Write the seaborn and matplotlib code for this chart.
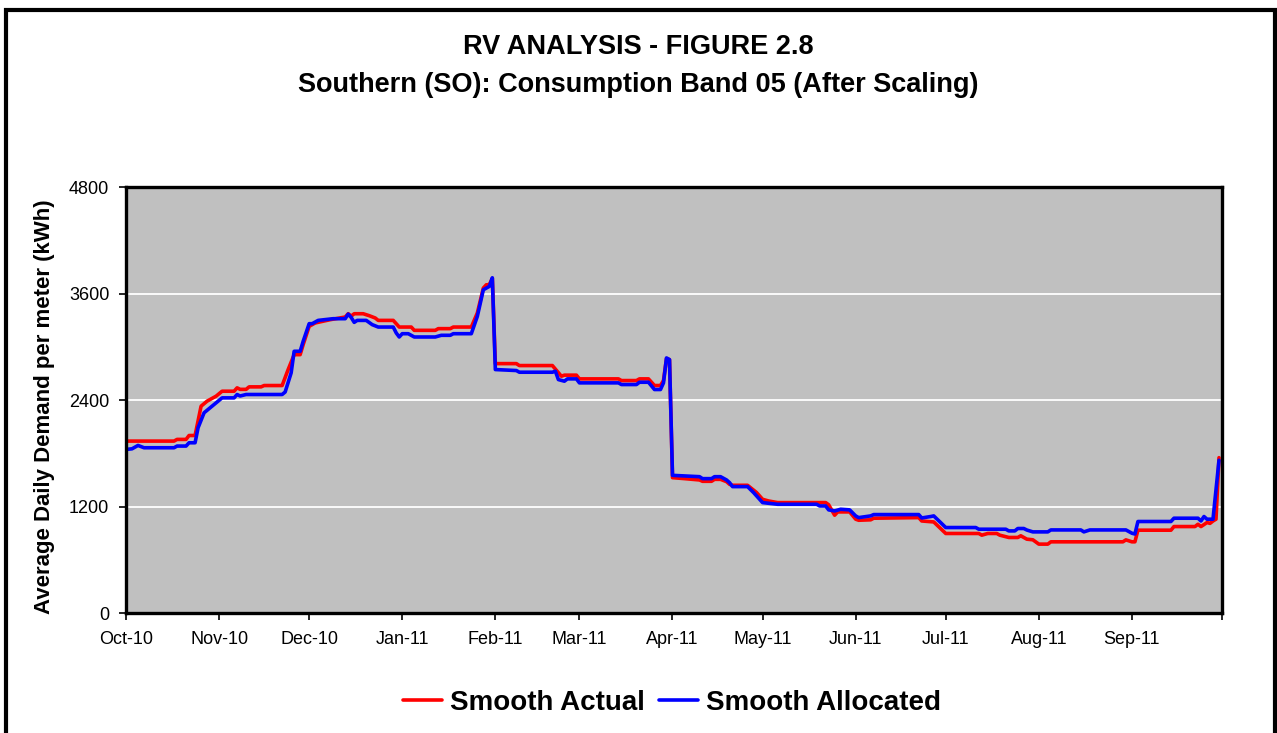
import pandas as pd
import matplotlib
matplotlib.use("Agg")
import matplotlib.pyplot as plt
import matplotlib.dates as mdates
from matplotlib.patches import Rectangle
import seaborn as sns

# --- data (change points of the smoothed series) ---
actual_dates = [
    "2010-10-01", "2010-10-17", "2010-10-18", "2010-10-21", "2010-10-22", "2010-10-24",
    "2010-10-26", "2010-10-28", "2010-10-31", "2010-11-02", "2010-11-06", "2010-11-07",
    "2010-11-08", "2010-11-10", "2010-11-11", "2010-11-15", "2010-11-16", "2010-11-22",
    "2010-11-24", "2010-11-26", "2010-11-28", "2010-11-29", "2010-12-01", "2010-12-03",
    "2010-12-08", "2010-12-13", "2010-12-14", "2010-12-15", "2010-12-16", "2010-12-19",
    "2010-12-21", "2010-12-23", "2010-12-24", "2010-12-29", "2010-12-31", "2011-01-04",
    "2011-01-05", "2011-01-12", "2011-01-13", "2011-01-17", "2011-01-18", "2011-01-24",
    "2011-01-26", "2011-01-28", "2011-01-29", "2011-01-30", "2011-01-31", "2011-02-01",
    "2011-02-08", "2011-02-09", "2011-02-20", "2011-02-23", "2011-02-24", "2011-02-28",
    "2011-03-01", "2011-03-14", "2011-03-15", "2011-03-20", "2011-03-21", "2011-03-24",
    "2011-03-26", "2011-03-28", "2011-03-29", "2011-03-30", "2011-03-31", "2011-04-01",
    "2011-04-05", "2011-04-10", "2011-04-11", "2011-04-14", "2011-04-15", "2011-04-17",
    "2011-04-19", "2011-04-20", "2011-04-21", "2011-04-26", "2011-04-29", "2011-05-01",
    "2011-05-03", "2011-05-06", "2011-05-22", "2011-05-23", "2011-05-25", "2011-05-26",
    "2011-05-30", "2011-06-01", "2011-06-02", "2011-06-06", "2011-06-07", "2011-06-22",
    "2011-06-23", "2011-06-27", "2011-07-01", "2011-07-12", "2011-07-13", "2011-07-15",
    "2011-07-18", "2011-07-19", "2011-07-22", "2011-07-25", "2011-07-26", "2011-07-28",
    "2011-07-30", "2011-08-01", "2011-08-04", "2011-08-05", "2011-08-29", "2011-08-30",
    "2011-09-01", "2011-09-02", "2011-09-03", "2011-09-14", "2011-09-15", "2011-09-22",
    "2011-09-23", "2011-09-24", "2011-09-26", "2011-09-27", "2011-09-28", "2011-09-29",
    "2011-09-30",
]
actual_values = [
    1937, 1937, 1956, 1956, 2000, 2000,
    2330, 2387, 2443, 2499, 2499, 2537,
    2520, 2520, 2548, 2548, 2563, 2563,
    2743, 2911, 2911, 3024, 3230, 3268,
    3305, 3335, 3372, 3345, 3372, 3372,
    3350, 3324, 3297, 3297, 3222, 3222,
    3185, 3185, 3204, 3204, 3222, 3222,
    3380, 3661, 3698, 3700, 3770, 2810,
    2810, 2788, 2788, 2668, 2680, 2680,
    2638, 2638, 2619, 2619, 2638, 2638,
    2563, 2563, 2620, 2866, 2855, 1525,
    1514, 1499, 1484, 1484, 1506, 1506,
    1480, 1450, 1439, 1439, 1357, 1281,
    1262, 1244, 1244, 1220, 1102, 1139,
    1139, 1057, 1045, 1050, 1068, 1075,
    1037, 1026, 896, 896, 877, 896,
    896, 877, 851, 851, 870, 832,
    825, 776, 776, 802, 802, 824,
    802, 802, 933, 933, 974, 974,
    1000, 974, 1019, 1010, 1037, 1057,
    1750,
]

allocated_dates = [
    "2010-10-01", "2010-10-03", "2010-10-05", "2010-10-07", "2010-10-17", "2010-10-18",
    "2010-10-21", "2010-10-22", "2010-10-24", "2010-10-25", "2010-10-27", "2010-10-29",
    "2010-10-31", "2010-11-02", "2010-11-06", "2010-11-07", "2010-11-08", "2010-11-10",
    "2010-11-22", "2010-11-23", "2010-11-25", "2010-11-26", "2010-11-28", "2010-11-29",
    "2010-12-01", "2010-12-02", "2010-12-04", "2010-12-09", "2010-12-13", "2010-12-14",
    "2010-12-15", "2010-12-16", "2010-12-17", "2010-12-20", "2010-12-22", "2010-12-24",
    "2010-12-29", "2010-12-30", "2010-12-31", "2011-01-01", "2011-01-03", "2011-01-05",
    "2011-01-12", "2011-01-14", "2011-01-17", "2011-01-18", "2011-01-24", "2011-01-26",
    "2011-01-28", "2011-01-29", "2011-01-30", "2011-01-31", "2011-02-01", "2011-02-08",
    "2011-02-09", "2011-02-20", "2011-02-21", "2011-02-22", "2011-02-24", "2011-02-25",
    "2011-02-28", "2011-03-01", "2011-03-14", "2011-03-15", "2011-03-20", "2011-03-21",
    "2011-03-24", "2011-03-26", "2011-03-28", "2011-03-29", "2011-03-30", "2011-03-31",
    "2011-04-01", "2011-04-10", "2011-04-11", "2011-04-14", "2011-04-15", "2011-04-17",
    "2011-04-19", "2011-04-20", "2011-04-21", "2011-04-26", "2011-04-28", "2011-04-29",
    "2011-05-01", "2011-05-06", "2011-05-19", "2011-05-20", "2011-05-22", "2011-05-23",
    "2011-05-25", "2011-05-27", "2011-05-30", "2011-06-01", "2011-06-02", "2011-06-06",
    "2011-06-07", "2011-06-22", "2011-06-23", "2011-06-26", "2011-06-27", "2011-07-01",
    "2011-07-11", "2011-07-12", "2011-07-21", "2011-07-22", "2011-07-24", "2011-07-25",
    "2011-07-27", "2011-07-28", "2011-07-30", "2011-08-04", "2011-08-05", "2011-08-15",
    "2011-08-16", "2011-08-18", "2011-08-30", "2011-09-01", "2011-09-02", "2011-09-03",
    "2011-09-14", "2011-09-15", "2011-09-23", "2011-09-24", "2011-09-25", "2011-09-26",
    "2011-09-28", "2011-09-30",
]
allocated_values = [
    1843, 1850, 1888, 1862, 1862, 1881,
    1881, 1918, 1918, 2087, 2256, 2312,
    2368, 2424, 2424, 2462, 2445, 2462,
    2462, 2490, 2706, 2949, 2949, 3061,
    3260, 3260, 3297, 3316, 3316, 3368,
    3330, 3275, 3297, 3297, 3249, 3222,
    3222, 3155, 3110, 3147, 3147, 3110,
    3110, 3129, 3129, 3147, 3147, 3342,
    3642, 3661, 3680, 3777, 2743, 2732,
    2713, 2713, 2724, 2630, 2612, 2638,
    2638, 2593, 2593, 2574, 2574, 2600,
    2600, 2518, 2518, 2593, 2874, 2855,
    1551, 1536, 1514, 1514, 1536, 1536,
    1499, 1469, 1424, 1424, 1357, 1319,
    1244, 1225, 1225, 1206, 1206, 1162,
    1150, 1169, 1162, 1094, 1075, 1094,
    1109, 1109, 1071, 1087, 1094, 963,
    963, 944, 944, 925, 925, 952,
    952, 935, 914, 914, 936, 936,
    914, 936, 936, 899, 890, 1031,
    1031, 1068, 1068, 1037, 1087, 1057,
    1057, 1720,
]

month_ticks = pd.date_range("2010-10-01", "2011-10-01", freq="MS")
month_labels = ["Oct-10", "Nov-10", "Dec-10", "Jan-11", "Feb-11", "Mar-11", "Apr-11",
                "May-11", "Jun-11", "Jul-11", "Aug-11", "Sep-11", ""]
y_ticks = [0, 1200, 2400, 3600, 4800]

df = pd.concat([
    pd.DataFrame({"date": pd.to_datetime(actual_dates), "value": actual_values,
                  "series": "Smooth Actual"}),
    pd.DataFrame({"date": pd.to_datetime(allocated_dates), "value": allocated_values,
                  "series": "Smooth Allocated"}),
], ignore_index=True)

sns.set_style("ticks")
plt.rcParams["font.family"] = ["Liberation Sans", "DejaVu Sans"]
plt.rcParams["text.color"] = "black"
plt.rcParams["axes.labelcolor"] = "black"
plt.rcParams["xtick.color"] = "black"
plt.rcParams["ytick.color"] = "black"

fig = plt.figure(figsize=(12.77, 7.33), dpi=100)
ax = fig.add_axes([126 / 1277, 1 - 613 / 733, (1222 - 126) / 1277, (613 - 187) / 733])
ax.set_facecolor("#C0C0C0")

sns.lineplot(data=df, x="date", y="value", hue="series", estimator=None, sort=False,
             palette={"Smooth Actual": "#FF0000", "Smooth Allocated": "#0000FF"},
             linewidth=2.6, ax=ax)

ax.set_xlim(month_ticks[0], month_ticks[-1])
ax.set_ylim(0, 4800)
ax.set_yticks(y_ticks)
ax.set_xticks(month_ticks)
ax.set_xticklabels(month_labels)
ax.yaxis.grid(True, color="white", linewidth=1.3)
ax.set_axisbelow(True)
for s in ax.spines.values():
    s.set_linewidth(2.4)
    s.set_color("black")
ax.tick_params(axis="both", direction="out", length=5, width=1.2, labelsize=13,
               color="black", labelcolor="black")
ax.tick_params(axis="y", pad=7)
ax.tick_params(axis="x", pad=8)
ax.set_xlabel("")
ax.set_ylabel("")

handles, labels = ax.get_legend_handles_labels()
ax.get_legend().remove()
fig.legend(handles, labels, loc="center", bbox_to_anchor=(672 / 1277, 1 - 703 / 733),
           ncol=2, frameon=False, handlelength=1.4, handletextpad=0.3,
           columnspacing=0.5, prop={"weight": "bold", "size": 20}, labelcolor="black")

fig.text(0.5, 1 - 47 / 733, "RV ANALYSIS - FIGURE 2.8", ha="center", va="center",
         fontsize=19.5, fontweight="bold", color="black")
fig.text(0.5, 1 - 85 / 733, "Southern (SO): Consumption Band 05 (After Scaling)",
         ha="center", va="center", fontsize=19.5, fontweight="bold", color="black")
fig.text(45 / 1277, 1 - 407 / 733, "Average Daily Demand per meter (kWh)", rotation=90,
         ha="center", va="center", fontsize=16, fontweight="bold", color="black")

# outer chart border
fig.patches.append(Rectangle((6 / 1277, -0.1), 1269 / 1277, 1.1 - 10 / 733,
                             transform=fig.transFigure, fill=False,
                             edgecolor="black", linewidth=3, clip_on=False))

fig.savefig("out.png", dpi=100, facecolor="white")
